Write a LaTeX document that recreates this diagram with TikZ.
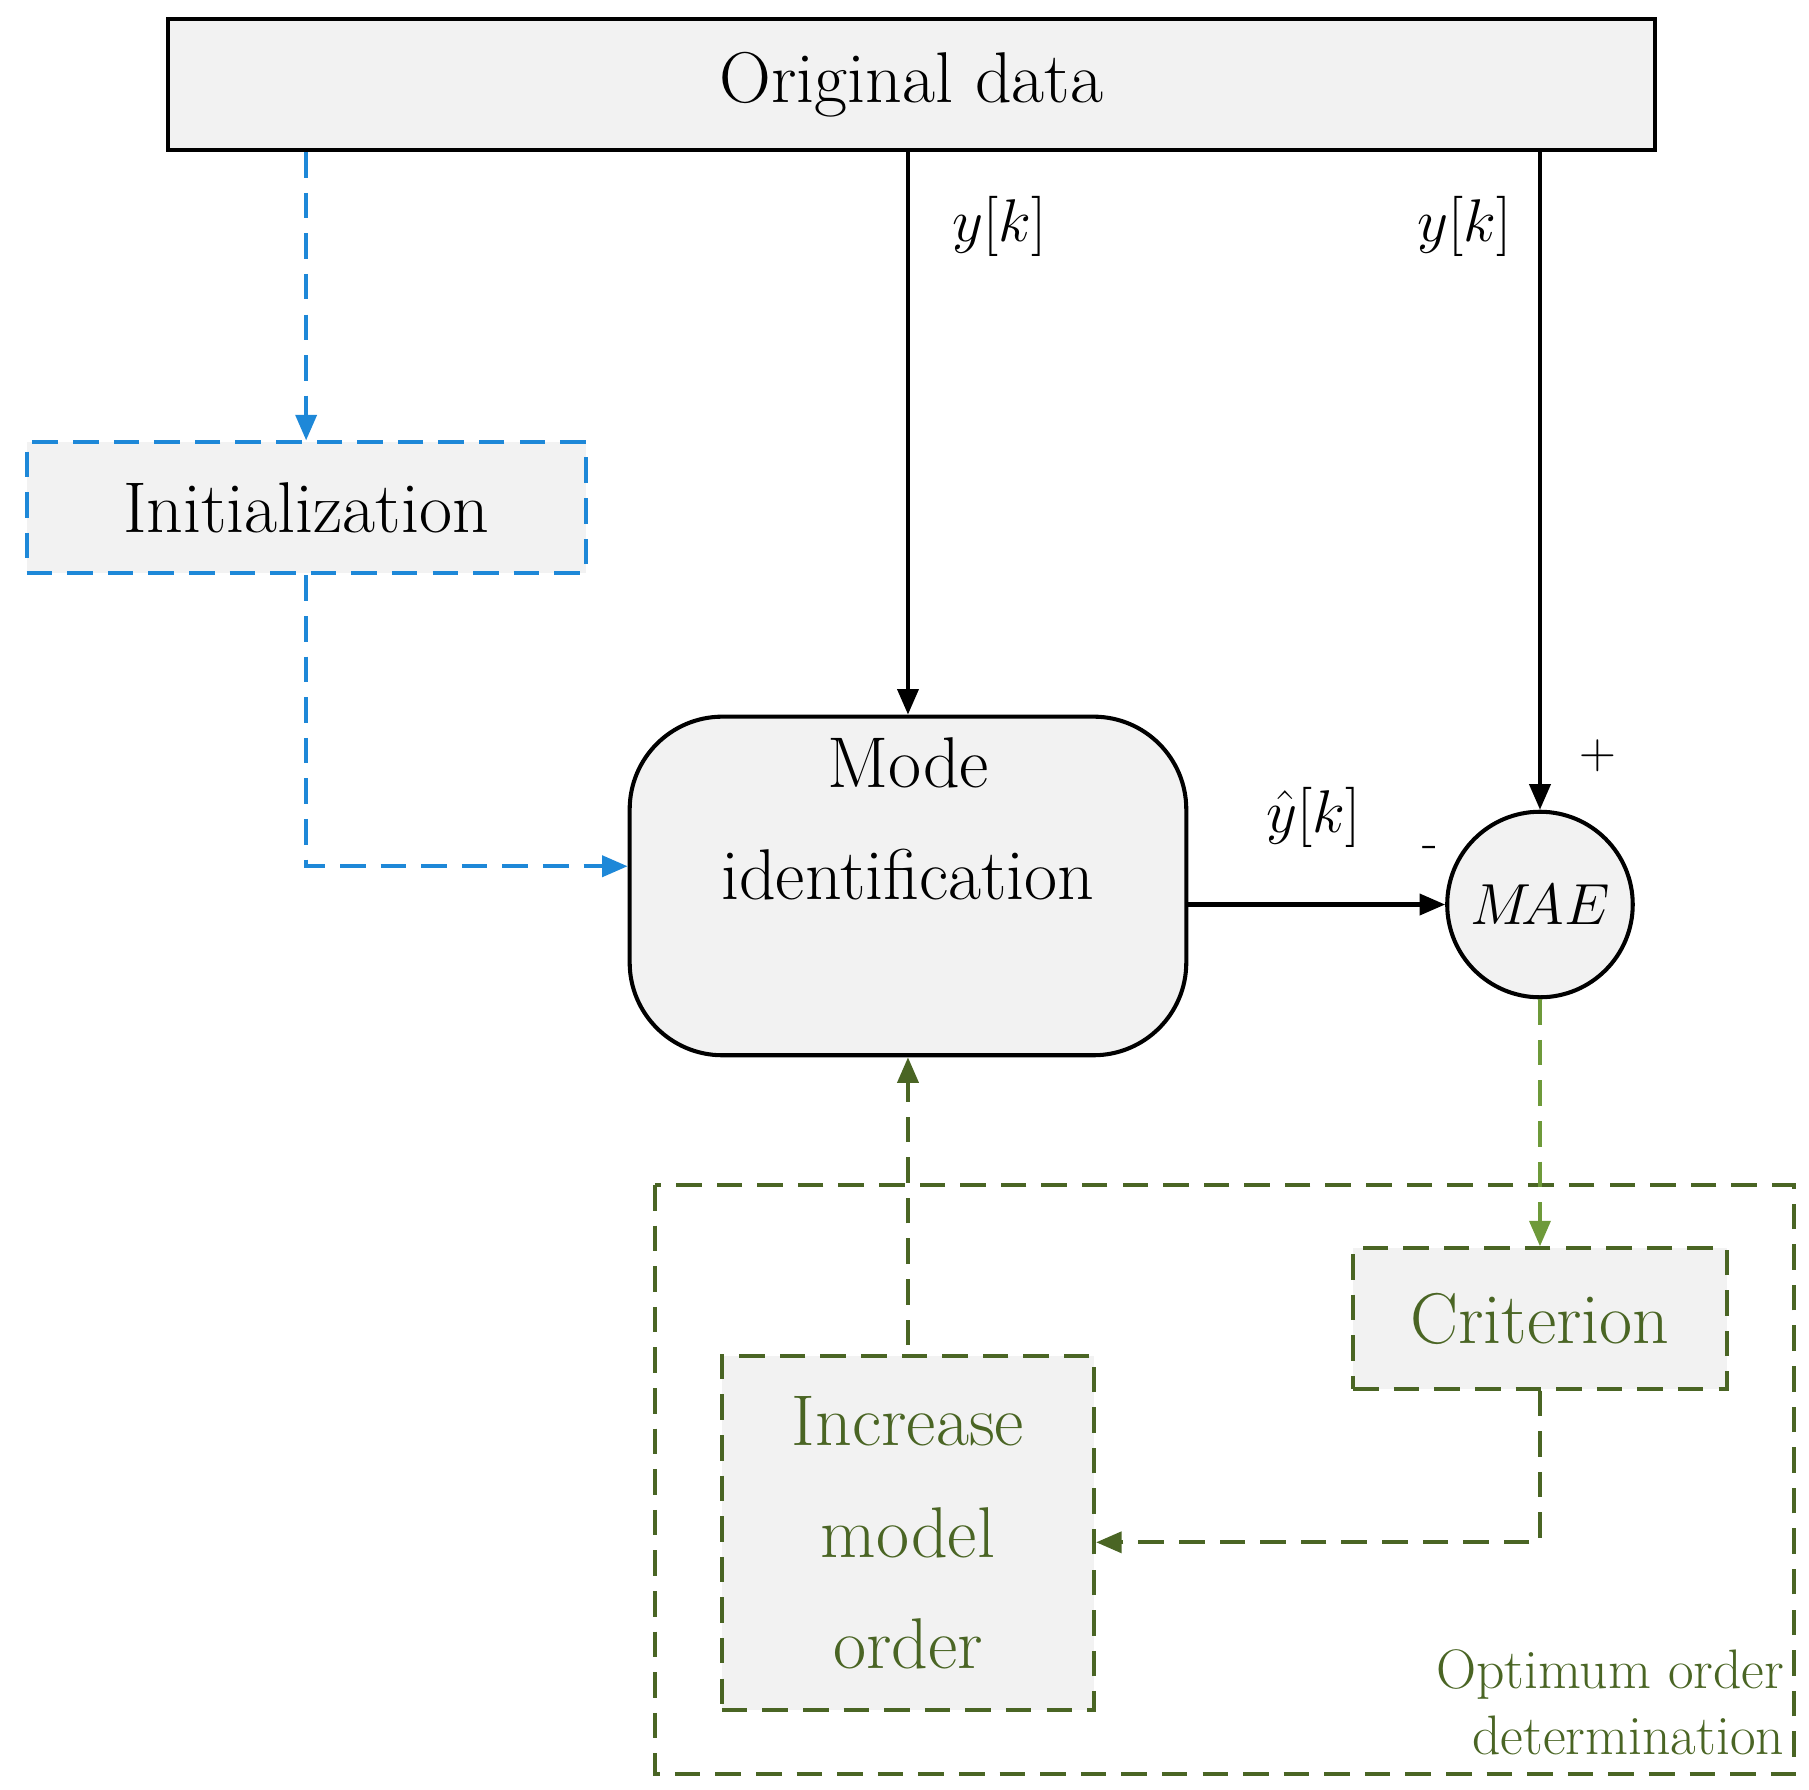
\RequirePackage{fix-cm}
\documentclass[tikz,border=0pt]{standalone}
\usetikzlibrary{arrows.meta}
\begin{document}
\begin{tikzpicture}[x=1pt,y=-1pt,
  lw/.style={line width=3.5pt},
  box/.style={lw,fill=gray!10,draw=black},
  txt/.style={font=\fontsize{62}{96}\selectfont,align=center},
  arr/.style={-{Triangle[length=22pt,width=18pt,#1]}},
  arr/.default={},
  bl/.style={lw,draw={rgb,255:red,30;green,136;blue,216},dash pattern=on 22pt off 13pt},
  gr/.style={lw,draw={rgb,255:red,74;green,101;blue,36},dash pattern=on 22pt off 13pt},
  lg/.style={lw,draw={rgb,255:red,110;green,154;blue,58},dash pattern=on 22pt off 13pt},
  lab/.style={font=\fontsize{52}{52}\selectfont}]
\useasboundingbox (0,0) rectangle (1560,1543);
\definecolor{dg}{RGB}{74,101,36}
\definecolor{bc}{RGB}{30,136,216}
\definecolor{lgc}{RGB}{110,154,58}
\node[box,minimum width=1282pt,minimum height=113pt,txt] (orig) at (786,73) {Original data};
\node[bl,fill=gray!10,minimum width=482pt,minimum height=113pt,txt,inner sep=0pt] (init) at (264,438) {Initialization};
\node[box,rounded corners=80pt,minimum width=480pt,minimum height=292pt,txt] (mode) at (783,764) {Mode\\identification\\[20pt]};
\node[circle,lw,draw,fill=gray!10,minimum size=160pt,font=\fontsize{50}{50}\selectfont,inner sep=0pt] (mae) at (1328,780) {$M\!AE$};
\draw[gr] (565,1022) rectangle (1547,1530);
\node[gr,fill=gray!10,minimum width=322pt,minimum height=121pt,txt,text=dg,inner sep=0pt] (crit) at (1328,1137) {Criterion};
\node[gr,fill=gray!10,minimum width=321pt,minimum height=305pt,txt,text=dg,inner sep=0pt] (inc) at (783,1322) {Increase\\model\\order};
\node[font=\fontsize{48}{57}\selectfont,text=dg,anchor=east,align=right] (opt) at (1542,1468) {Optimum order\\determination};
% connectors
\draw[bl,arr={fill=bc}] (orig.south -| init.north) -- (init.north);
\coordinate (c1) at (264,747);
\draw[bl,arr={fill=bc}] (init.south) -- (c1) -- (c1 -| mode.west);
\draw[lw,arr] (orig.south -| mode.north) -- (mode.north);
\draw[lw,arr] (orig.south -| mae.north) -- (mae.north);
\draw[lw,arr] (mode.east |- mae.west) -- (mae.west);
\draw[lg,arr={fill=lgc}] (mae.south) -- (crit.north);
\coordinate (c2) at (1328,1330);
\draw[gr,arr={fill=dg}] (crit.south) -- (c2) -- (c2 -| inc.east);
\coordinate (c3) at (783,1160);
\draw[gr,arr={fill=dg}] (c3) -- (mode.south);
% labels
\node[lab] (l1) at (862,195) {$y\Bigl[k\Bigr]$};
\node[lab] (l2) at (1263,195) {$y\Bigl[k\Bigr]$};
\node[lab] (l3) at (1133,705) {$\hat y\Bigl[k\Bigr]$};
\node[font=\fontsize{44}{44}\selectfont] (pl) at (1378,652) {+};
\node[font=\fontsize{44}{44}\selectfont] (mi) at (1233,735) {-};
\end{tikzpicture}
\end{document}
